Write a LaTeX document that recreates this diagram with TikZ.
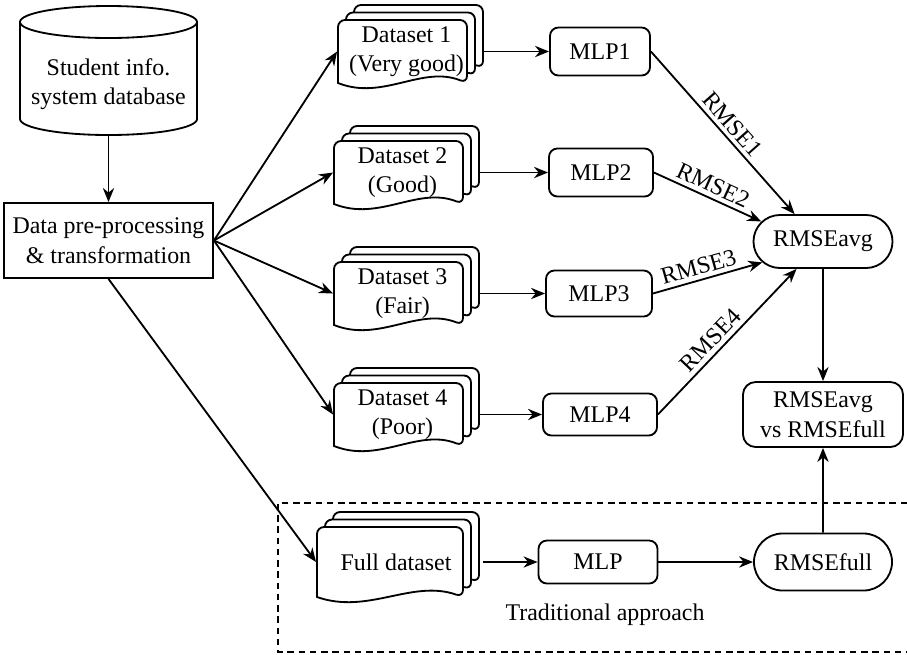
\documentclass[tikz,border=0pt]{standalone}
\usepackage{fontspec}
\setmainfont{Liberation Serif}
\usetikzlibrary{arrows.meta,shapes.misc}

% one page of a document stack: left x, top y, width, height (pixel units)
\newcommand{\docpage}[4]{%
  \filldraw[fill=white] (#1,#2+#4) {[rounded corners=5pt] -- (#1,#2) -- (#1+#3,#2) -- (#1+#3,#2+#4)}
    .. controls (#1+0.65*#3,#2+#4-18) and (#1+0.35*#3,#2+#4+18) .. (#1,#2+#4) -- cycle;}
\newcommand{\docstack}[4]{%
  \docpage{#1+16}{#2-15}{#3}{#4}
  \docpage{#1+8}{#2-7.5}{#3}{#4}
  \docpage{#1}{#2}{#3}{#4}}

\begin{document}
\begin{tikzpicture}[x=0.025cm, y=-0.025cm, line width=1.3pt,
    font=\fontsize{17}{21}\selectfont, >={Stealth[length=10pt,width=8pt]}]

    \useasboundingbox (0,0) rectangle (907,654);

        % database cylinder
        \draw (20,22) -- (20,119) arc[start angle=180, end angle=360, x radius=2.2125cm, y radius=0.4cm] -- (197,22);
        \draw (108.5,22) ellipse[x radius=2.2125cm, y radius=0.4cm];

        % document stacks
        \docstack{338}{20}{129}{63}
        \docstack{334}{141}{129}{63}
        \docstack{334}{262}{129}{63}
        \docstack{334}{383}{129}{63}
        \docstack{317}{527}{146}{70}

        \begin{scope}[every node/.style={align=center, inner sep=0pt}]
            \node[minimum width=4.425cm, minimum height=2.55cm] (db) at (108.5,84) {Student info.\\system database};
            \node[draw, minimum width=5.225cm, minimum height=1.875cm] (pre) at (108.5,240.5) {Data pre-processing\\\& transformation};
            \node[minimum width=3.225cm, minimum height=1.575cm] (ds1) at (402.5,51.5) {\hspace*{0.2cm}Dataset 1\\\hspace*{0.2cm}(Very good)};
            \node[minimum width=3.225cm, minimum height=1.575cm] (ds2) at (398.5,172.5) {\hspace*{0.2cm}Dataset 2\\\hspace*{0.2cm}(Good)};
            \node[minimum width=3.225cm, minimum height=1.575cm] (ds3) at (398.5,293.5) {\hspace*{0.2cm}Dataset 3\\\hspace*{0.2cm}(Fair)};
            \node[minimum width=3.225cm, minimum height=1.575cm] (ds4) at (398.5,414.5) {\hspace*{0.2cm}Dataset 4\\\hspace*{0.2cm}(Poor)};
            \node[minimum width=3.65cm, minimum height=1.75cm] (full) at (390,562) {\hspace*{0.3cm}Full dataset};
        \end{scope}

        \begin{scope}[every node/.style={draw, rounded corners=6pt, inner sep=0pt, align=center}]
            \node[minimum width=2.5cm, minimum height=1.2cm] (m1) at (600,51.5) {MLP1};
            \node[minimum width=2.6cm, minimum height=1.2cm] (m2) at (601,172.5) {MLP2};
            \node[minimum width=2.65cm, minimum height=1.15cm] (m3) at (599,293.5) {MLP3};
            \node[minimum width=2.85cm, minimum height=1.05cm] (m4) at (600,414.5) {MLP4};
            \node[minimum width=2.975cm, minimum height=1.075cm] (mfull) at (598,562) {MLP};
            \node[rounded corners=9pt, minimum width=4cm, minimum height=1.625cm] (cmp) at (823,414.5) {RMSEavg\\vs RMSEfull};
        \end{scope}

        \begin{scope}[every node/.style={draw, rounded rectangle, inner sep=0pt}]
            \node[minimum width=3.475cm, minimum height=1.325cm] (avg) at (823,241.5) {RMSEavg};
            \node[minimum width=3.45cm, minimum height=1.425cm] (rfull) at (823,562) {RMSEfull};
        \end{scope}

        \begin{scope}[every edge/.style={draw, line width=1.3pt}, every node/.style={sloped, above, inner sep=3pt}]
            \path [->] (db.south) edge (pre.north);
            \path [->] (pre.east) edge (ds1.west);
            \path [->] (pre.east) edge (ds2.west);
            \path [->] (pre.east) edge (ds3.west);
            \path [->] (pre.east) edge (ds4.west);
            \path [->] (pre.south) edge (full.west);
            \path [->] ([xshift=0.4cm]ds1.east) edge (m1);
            \path [->] ([xshift=0.4cm]ds2.east) edge (m2);
            \path [->] ([xshift=0.4cm]ds3.east) edge (m3);
            \path [->] ([xshift=0.4cm]ds4.east) edge (m4);
            \path [->] ([xshift=0.475cm]full.east) edge (mfull);
            \path [->] (m1.east) edge node {RMSE1} (avg.136);
            \path [->] (m2.east) edge node {RMSE2} (avg.162);
            \path [->] (m3.east) edge node[pos=0.45] {RMSE3} (avg.199);
            \path [->] (m4.east) edge node[pos=0.45] {RMSE4} (avg.226);
            \path [->] (avg) edge (cmp);
            \path [->] (mfull) edge (rfull);
            \path [->] (rfull) edge (cmp);
        \end{scope}

        % traditional approach frame
        \draw[dashed, dash pattern=on 4.5pt off 3.5pt] (907,503) -- (278,503) -- (278,652) -- (907,652);
        \node (trad) at (605,615) {Traditional approach};

    \end{tikzpicture}
\end{document}
